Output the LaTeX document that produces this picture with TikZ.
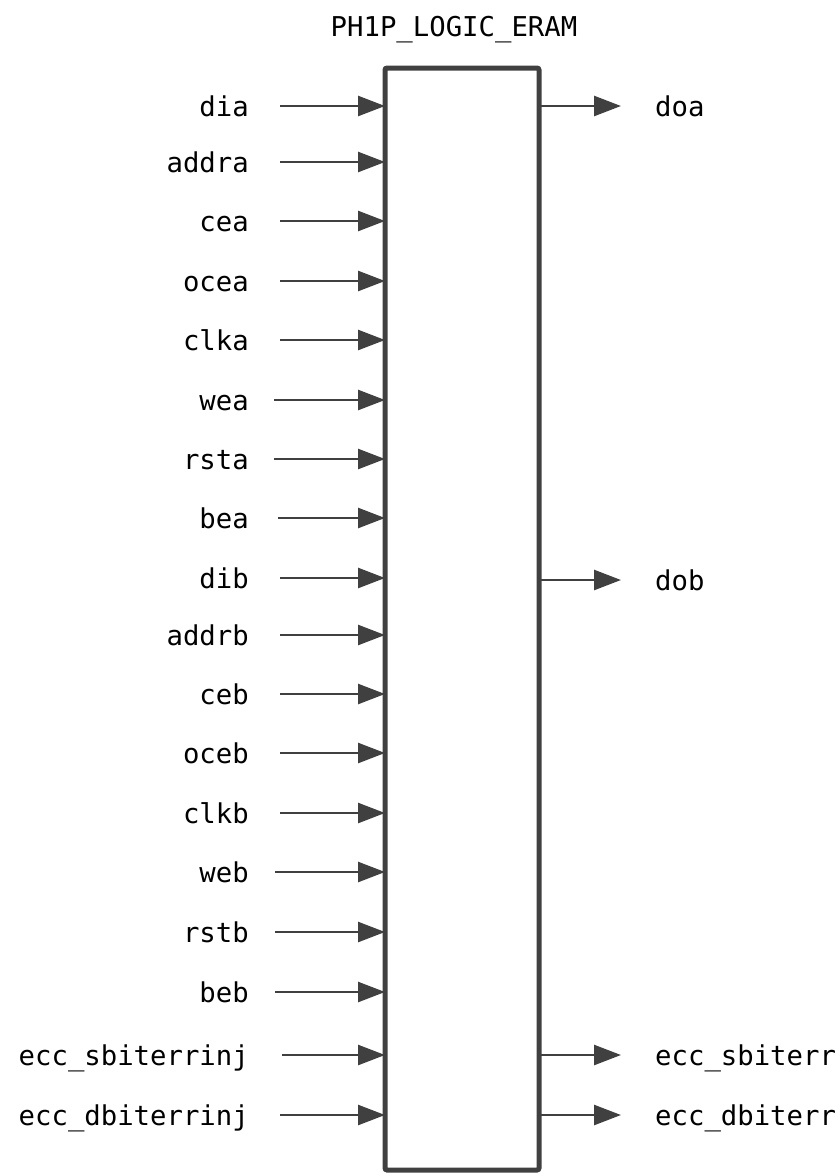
\documentclass[tikz,border=0pt]{standalone}
\usepackage{fontspec}
\setmonofont{DejaVu Sans Mono}
\usetikzlibrary{arrows.meta}
\definecolor{lc}{HTML}{404040}
\begin{document}
\begin{tikzpicture}[x=1pt,y=-1pt,
  lbl/.style={font=\ttfamily\fontsize{27.3}{27.3}\selectfont, inner sep=0pt, text=black},
  arr/.style={draw=lc, line width=2.6pt, -{Triangle[length=27pt,width=20pt]}},
  blkstyle/.style={draw=lc, line width=5pt, rounded corners=2pt, minimum width=154pt, minimum height=1102pt, inner sep=0pt, outer sep=0pt}]
\useasboundingbox (0,0) rectangle (840,1176);
\node[blkstyle] (blk) at (462,619) {};
\node[lbl, anchor=base] (title) at (454,36) {PH1P\_LOGIC\_ERAM};
% inputs: name, y, start x
\foreach \n/\t/\yy/\sx in {i1/dia/106/280, i2/addra/162/280, i3/cea/221/280, i4/ocea/281/280,
  i5/clka/340/280, i6/wea/400/274, i7/rsta/459/274, i8/bea/518/278, i9/dib/578/280,
  i10/addrb/635/280, i11/ceb/694/280, i12/oceb/753/280, i13/clkb/813/280, i14/web/872/275,
  i15/rstb/932/275, i16/beb/992/275, i17/ecc\_sbiterrinj/1055/282, i18/ecc\_dbiterrinj/1115/280}{
  \node[lbl, anchor=base east] (\n l) at (249,\yy+10) {\t};
  \coordinate (\n s) at (\sx,\yy);
  \draw[arr] (\n s) -- (\n s -| blk.west);
}
% outputs
\foreach \n/\t/\yy in {o1/doa/106, o2/dob/580, o3/ecc\_sbiterr/1055, o4/ecc\_dbiterr/1115}{
  \coordinate (\n e) at (621,\yy);
  \node[lbl, anchor=base west] (\n l) at (655,\yy+10) {\t};
  \draw[arr] (\n e -| blk.east) -- (\n e);
}
\end{tikzpicture}
\end{document}
